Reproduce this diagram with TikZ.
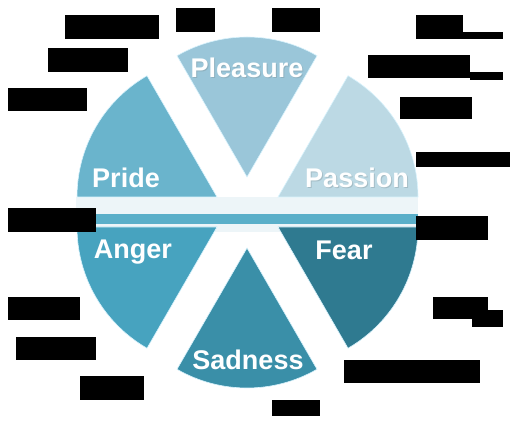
\documentclass[tikz,border=0pt]{standalone}
\usepackage{fontspec}
\setmainfont{Liberation Sans}
\definecolor{cPride}{HTML}{6AB4CC}
\definecolor{cPleasure}{HTML}{9AC6D9}
\definecolor{cPassion}{HTML}{BCD9E4}
\definecolor{cAnger}{HTML}{47A3BF}
\definecolor{cSadness}{HTML}{3A8FA8}
\definecolor{cFear}{HTML}{2F7A90}
\definecolor{cBar}{HTML}{5AAFC9}
\definecolor{cBand}{HTML}{EDF5F8}
\definecolor{cShadow}{HTML}{7A8A90}
\tikzset{
  wedge/.style={draw=white!85!cyan, line width=0.6pt},
  lab/.style={text=white, font=\bfseries\fontsize{27}{27}\selectfont, inner sep=0pt},
  labshadow/.style={text=cShadow, opacity=0.35, font=\bfseries\fontsize{27}{27}\selectfont, inner sep=0pt},
  redact/.style={fill=black}
}
\begin{document}
\begin{tikzpicture}[x=1pt,y=1pt]
\useasboundingbox (0,0) rectangle (510,446);
% light band between halves
\fill[cBand] (76,214) rectangle (418,249);
\fill[cBar] (76,222) rectangle (418,232);
% top half
\fill[cPride, wedge] (217,249) -- ++(120:140) arc (120:180:140) -- cycle;
\fill[cPleasure, wedge] (247,269) -- ++(60:140) arc (60:120:140) -- cycle;
\fill[cPassion, wedge] (278,249) -- ++(0:140) arc (0:60:140) -- cycle;
% bottom half
\fill[cAnger, wedge] (217,219) -- ++(180:140) arc (180:240:140) -- cycle;
\fill[cSadness, wedge] (247,198) -- ++(240:140) arc (240:300:140) -- cycle;
\fill[cFear, wedge] (278,219) -- ++(300:140) arc (300:360:140) -- cycle;
% labels
\node[labshadow] at (248,377) {Pleasure};
\node[labshadow] at (358,267) {Passion};
\node[lab] (pleasure) at (247,378) {Pleasure};
\node[lab] (pride) at (126,268) {Pride};
\node[lab] (passion) at (357,268) {Passion};
\node[lab] (anger) at (133,194) {Anger};
\node[lab] (fear) at (344,196) {Fear};
\node[lab] (sadness) at (248,86) {Sadness};
% redacted labels
\fill[redact] (65,407) rectangle (159,431);
\fill[redact] (48,374) rectangle (128,398);
\fill[redact] (8,335) rectangle (87,358);
\fill[redact] (176,414) rectangle (215,438);
\fill[redact] (272,414) rectangle (320,438);
\fill[redact] (416,407) rectangle (463,431);
\fill[redact] (463,407) rectangle (503,414);
\fill[redact] (368,368) rectangle (470,391);
\fill[redact] (470,366) rectangle (503,374);
\fill[redact] (400,327) rectangle (472,349);
\fill[redact] (416,279) rectangle (510,294);
\fill[redact] (8,214) rectangle (96,238);
\fill[redact] (416,206) rectangle (488,230);
\fill[redact] (8,126) rectangle (80,149);
\fill[redact] (16,86) rectangle (96,109);
\fill[redact] (80,46) rectangle (144,70);
\fill[redact] (433,127) rectangle (488,149);
\fill[redact] (472,119) rectangle (503,136);
\fill[redact] (344,63) rectangle (480,86);
\fill[redact] (272,30) rectangle (320,46);
\end{tikzpicture}
\end{document}
